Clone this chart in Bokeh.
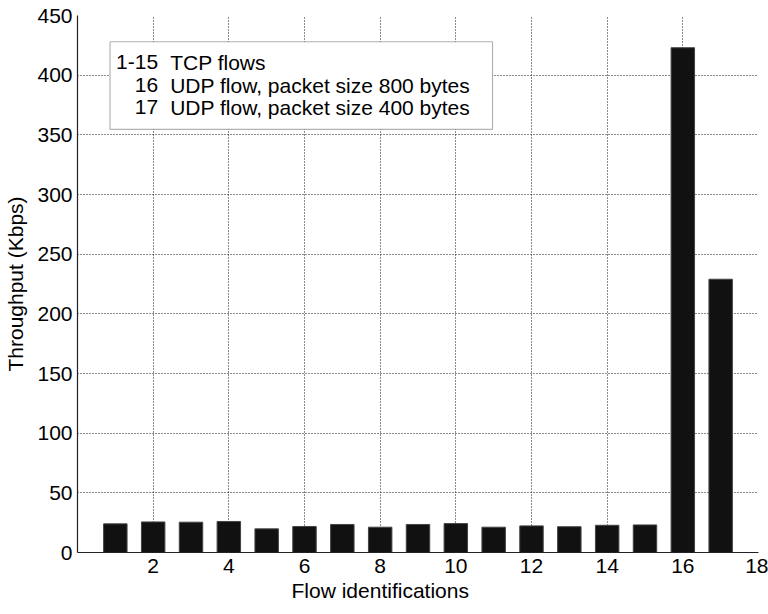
from bokeh.plotting import figure
from bokeh.models import Range1d, FixedTicker, BoxAnnotation, Label, Title
from bokeh.embed import file_html
from bokeh.resources import INLINE

flows = list(range(1, 18))
throughput = [24.0, 25.6, 25.4, 26.0, 19.8, 21.8, 23.5, 21.2, 23.5, 24.2,
              21.2, 22.3, 21.6, 22.8, 23.1, 423.0, 229.0]
x_ticks = [2, 4, 6, 8, 10, 12, 14, 16, 18]
y_ticks = [0, 50, 100, 150, 200, 250, 300, 350, 400, 450]
legend_nums = ["1-15", "16", "17"]
legend_texts = ["TCP flows", "UDP flow, packet size 800 bytes", "UDP flow, packet size 400 bytes"]
x_title = "Flow identifications"
y_title = "Throughput (Kbps)"

FONT = "Liberation Sans"
FS = "21px"

p = figure(width=768, height=614, output_backend="svg", toolbar_location=None,
           x_range=Range1d(0, 18), y_range=Range1d(0, 450),
           min_border_left=77, min_border_right=10, min_border_top=15, min_border_bottom=62)
p.outline_line_color = None
p.background_fill_color = "white"

p.vbar(x=flows, top=throughput, width=0.62, bottom=0,
       fill_color="#111111", line_color="#444444", line_width=1)

for ax in (p.xaxis, p.yaxis):
    ax.major_tick_out = 0
    ax.major_tick_in = 0
    ax.minor_tick_out = 0
    ax.minor_tick_in = 0
    ax.axis_line_color = "#222222"
    ax.axis_line_width = 1.2
    ax.major_label_text_font = FONT
    ax.major_label_text_font_size = FS
    ax.major_label_text_color = "black"
    ax.axis_label_text_font = FONT
    ax.axis_label_text_font_size = FS
    ax.axis_label_text_font_style = "normal"
    ax.axis_label_text_color = "black"

p.xaxis.ticker = FixedTicker(ticks=x_ticks)
p.yaxis.ticker = FixedTicker(ticks=y_ticks)
p.yaxis.axis_label = y_title
p.xaxis.major_label_standoff = 6
p.yaxis.major_label_standoff = 5
p.yaxis.axis_label_standoff = 7

# x title: sits left of the frame centre as in the reference
p.add_layout(Title(text=x_title, align="left", offset=214, standoff=2,
                   text_font=FONT, text_font_size=FS, text_font_style="normal",
                   text_color="black"), "below")

p.xgrid.ticker = FixedTicker(ticks=x_ticks)
p.ygrid.ticker = FixedTicker(ticks=y_ticks)
for g in (p.xgrid, p.ygrid):
    g.grid_line_color = "black"
    g.grid_line_alpha = 0.9
    g.grid_line_dash = "1 2"
    g.grid_line_width = 1

# legend box (data coordinates)
p.add_layout(BoxAnnotation(left=0.86, right=10.97, bottom=354.5, top=428,
                           fill_color="white", fill_alpha=1.0,
                           line_color="black", line_width=1.2, level="annotation"))
ys = [411.0, 391.5, 373.0]
for num, txt, yy in zip(legend_nums, legend_texts, ys):
    p.add_layout(Label(x=2.13, y=yy, text=num, text_align="right", text_baseline="middle",
                       text_font=FONT, text_font_size=FS, text_color="black"))
    p.add_layout(Label(x=2.45, y=yy, text=txt, text_align="left", text_baseline="middle",
                       text_font=FONT, text_font_size=FS, text_color="black"))

open("out.html", "w").write(file_html(p, INLINE))
